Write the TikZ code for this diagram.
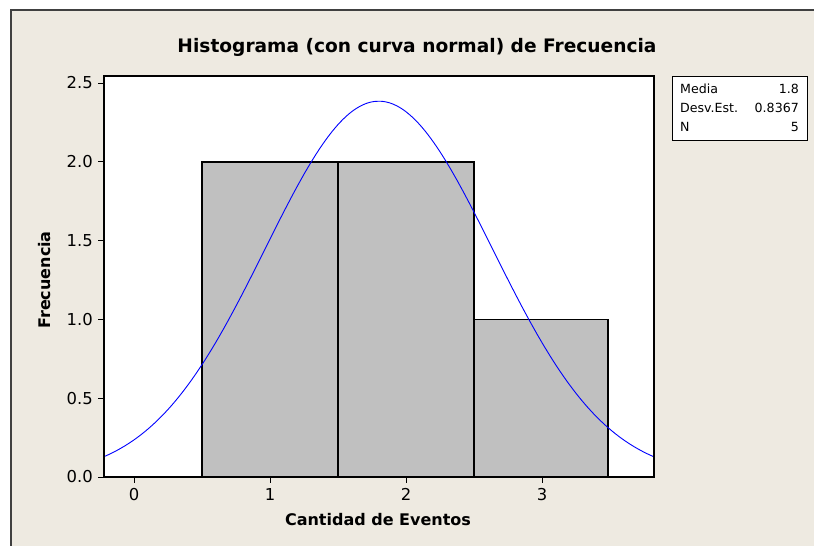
\documentclass[tikz,border=0pt]{standalone}
\usepackage{fontspec}
\setmainfont{DejaVu Sans}
\begin{document}
\begin{tikzpicture}[x=1pt,y=-1pt,
  bg/.style={fill=bgc,draw=none},
  bar/.style={fill=barc,draw=black,line width=1.2pt},
  tick/.style={draw=black,line width=1pt},
  ticklab/.style={font=\fontsize{16.4}{16.4}\selectfont,inner sep=0pt},
  axlab/.style={font=\bfseries\fontsize{16}{16}\selectfont,inner sep=0pt},
  leg/.style={font=\fontsize{12.6}{12.6}\selectfont,inner sep=0pt}]
\definecolor{bgc}{RGB}{238,234,225}
\definecolor{barc}{RGB}{192,192,192}
\definecolor{framec}{RGB}{64,64,64}
\useasboundingbox (0,0) rectangle (814,546);
\fill[white] (0,0) rectangle (814,546);
\fill[bgc] (11,10) rectangle (814,546);
\draw[framec,line width=1.6pt] (11,546) -- (11,10) -- (814,10);
% plot area
\fill[white] (104,76) rectangle (654,477);
% bars
\draw[bar] (202,477) rectangle (338,162);
\draw[bar] (338,477) rectangle (474,162);
\draw[bar] (474,477) rectangle (608,319.4);
% normal curve
\begin{scope}
\clip (104,76) rectangle (654,477);
\draw[blue,line width=0.9pt,samples=220,domain=-0.23:3.84,variable=\t]
  plot ({134+136*\t},{477-157.6*2.384*exp(-((\t-1.8)^2)/(2*0.8367^2))});
\end{scope}
\draw[black,line width=1.2pt] (104,76) rectangle (654,477);
% y ticks
\foreach \v/\l in {0/0.0,0.5/0.5,1/1.0,1.5/1.5,2/2.0,2.5/2.5}{
  \draw[tick] (98,{477-157.6*\v}) -- (104,{477-157.6*\v});
  \node[ticklab,anchor=east] (y\l) at (93,{477-157.6*\v}) {\l};
}
% x ticks
\foreach \v in {0,1,2,3}{
  \draw[tick] ({134+136*\v},477) -- ({134+136*\v},483);
  \node[ticklab,anchor=north] (x\v) at ({134+136*\v},488) {\v};
}
% labels
\node[font=\bfseries\fontsize{18.6}{18.6}\selectfont,inner sep=0pt] (title) at (417,47) {Histograma (con curva normal) de Frecuencia};
\node[axlab] (xl) at (378,520) {Cantidad de Eventos};
\node[axlab,rotate=90] (yl) at (45,280) {Frecuencia};
% legend
\draw[black,line width=0.8pt,fill=white] (672,76) rectangle (807,140);
\node[leg,anchor=west] (l1) at (680,89) {Media};
\node[leg,anchor=west] (l2) at (680,108) {Desv.Est.};
\node[leg,anchor=west] (l3) at (680,127) {N};
\node[leg,anchor=east] (v1) at (799,89) {1.8};
\node[leg,anchor=east] (v2) at (799,108) {0.8367};
\node[leg,anchor=east] (v3) at (799,127) {5};
\end{tikzpicture}
\end{document}
